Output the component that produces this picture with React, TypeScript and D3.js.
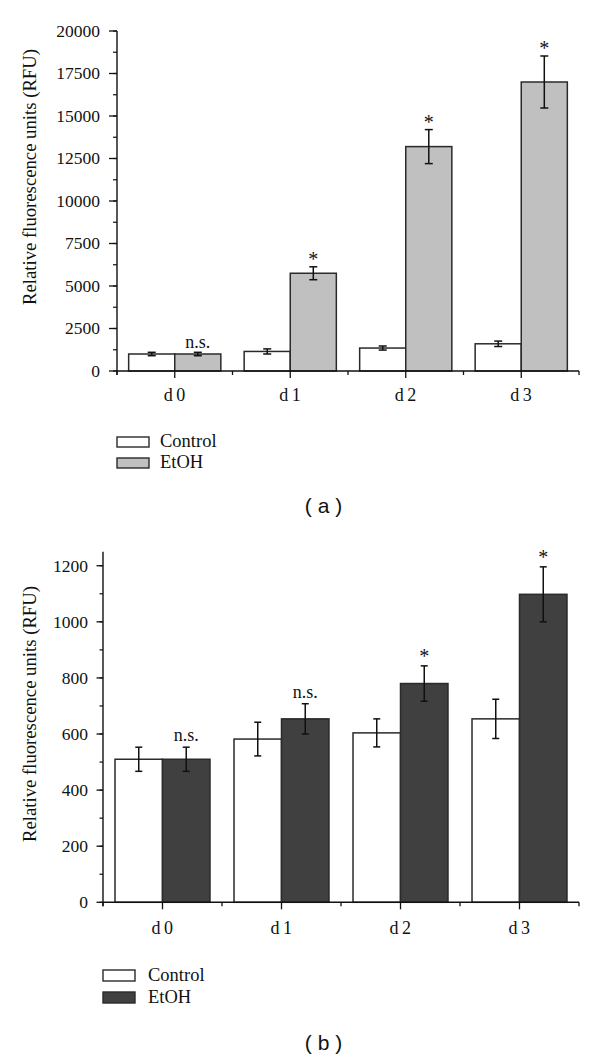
import React from "react";
import * as d3 from "d3";

const categories = ["d0", "d1", "d2", "d3"];
const series = ["Control", "EtOH"];

const aControl = [1000, 1150, 1350, 1600];
const aControlErr = [100, 150, 120, 160];
const aEtoh = [1000, 5750, 13200, 17000];
const aEtohErr = [100, 380, 1000, 1530];
const aMarks = ["n.s.", "*", "*", "*"];
const aTicks = [0, 2500, 5000, 7500, 10000, 12500, 15000, 17500, 20000];

const bControl = [510, 582, 604, 654];
const bControlErr = [43, 60, 50, 70];
const bEtoh = [510, 654, 780, 1098];
const bEtohErr = [43, 54, 63, 98];
const bMarks = ["n.s.", "n.s.", "*", "*"];
const bTicks = [0, 200, 400, 600, 800, 1000, 1200];

const SERIF = "'Liberation Serif', 'Times New Roman', serif";
const SANS = "'Liberation Sans', Arial, sans-serif";

type PanelProps = {
  control: number[];
  controlErr: number[];
  etoh: number[];
  etohErr: number[];
  marks: string[];
  ticks: number[];
  minorStep: number;
  yDomainMax: number;
  yTop: number;
  yBottom: number;
  xLeft: number;
  xRight: number;
  etohColor: string;
  majorLen: number;
  minorLen: number;
  labelX: number;
  catLabelY: number;
  capW: number;
  nsOffset: number;
  starOffset: number;
  legendBoxX: number;
  legendTextX: number;
  legendY: number[];
  legendBoxH: number;
  legendBaseline: number[];
  panelLabel: string;
  panelLabelY: number;
  yLabelCenter: number;
};

function Panel(p: PanelProps) {
  const y = d3.scaleLinear().domain([0, p.yDomainMax]).range([p.yBottom, p.yTop]);
  const x = d3.scaleBand<string>().domain(categories).range([p.xLeft, p.xRight]).padding(0);
  const inner = d3
    .scaleBand<string>()
    .domain(series)
    .range([0, x.bandwidth()])
    .paddingInner(0)
    .paddingOuter(0.253);
  const minor = d3.range(0, p.ticks[p.ticks.length - 1] + 1, p.minorStep);
  const boundaries = categories.map((c) => x(c) as number).concat([p.xRight]);
  const data = [
    { key: "Control", vals: p.control, errs: p.controlErr, fill: "#ffffff" },
    { key: "EtOH", vals: p.etoh, errs: p.etohErr, fill: p.etohColor },
  ];
  const y0 = y(0);
  return (
    <g>
      {data.map((s) =>
        categories.map((c, i) => {
          const bx = (x(c) as number) + (inner(s.key) as number);
          const bw = inner.bandwidth();
          return (
            <rect
              key={s.key + c}
              x={bx}
              y={y(s.vals[i])}
              width={bw}
              height={y0 - y(s.vals[i])}
              fill={s.fill}
              stroke="#2a2a2a"
              strokeWidth={1.5}
            />
          );
        })
      )}
      {data.map((s) =>
        categories.map((c, i) => {
          const cx = (x(c) as number) + (inner(s.key) as number) + inner.bandwidth() / 2;
          const t = y(s.vals[i] + s.errs[i]);
          const b = y(s.vals[i] - s.errs[i]);
          return (
            <g key={"e" + s.key + c} stroke="#111" strokeWidth={1.5}>
              <line x1={cx} x2={cx} y1={t} y2={b} />
              <line x1={cx - p.capW / 2} x2={cx + p.capW / 2} y1={t} y2={t} />
              <line x1={cx - p.capW / 2} x2={cx + p.capW / 2} y1={b} y2={b} />
            </g>
          );
        })
      )}
      {categories.map((c, i) => {
        const cx = (x(c) as number) + (inner("EtOH") as number) + inner.bandwidth() / 2;
        const t = y(p.etoh[i] + p.etohErr[i]);
        const isStar = p.marks[i] === "*";
        return (
          <text
            key={"m" + c}
            x={cx}
            y={t - (isStar ? p.starOffset : p.nsOffset)}
            textAnchor="middle"
            fontFamily={SERIF}
            fontSize={isStar ? 20 : 18}
            fill="#111"
          >
            {p.marks[i]}
          </text>
        );
      })}
      <line x1={p.xLeft} x2={p.xLeft} y1={p.yTop} y2={y0 + 4} stroke="#111" strokeWidth={1.4} />
      {minor.map((v) => (
        <line
          key={"mi" + v}
          x1={p.xLeft - p.minorLen}
          x2={p.xLeft}
          y1={y(v)}
          y2={y(v)}
          stroke="#111"
          strokeWidth={1.2}
        />
      ))}
      {p.ticks.map((v) => (
        <g key={"t" + v}>
          <line x1={p.xLeft - p.majorLen} x2={p.xLeft} y1={y(v)} y2={y(v)} stroke="#111" strokeWidth={1.3} />
          <text
            x={p.labelX}
            y={y(v)}
            dy="0.34em"
            textAnchor="end"
            fontFamily={SERIF}
            fontSize={17.5}
            fill="#111"
          >
            {v}
          </text>
        </g>
      ))}
      <text
        transform={`translate(36, ${p.yLabelCenter}) rotate(-90)`}
        textAnchor="middle"
        fontFamily={SERIF}
        fontSize={18}
        textLength={256}
        lengthAdjust="spacingAndGlyphs"
        fill="#111"
      >
        Relative fluorescence units (RFU)
      </text>
      <line x1={p.xLeft} x2={p.xRight} y1={y0} y2={y0} stroke="#111" strokeWidth={1.4} />
      {boundaries.map((bx, i) => (
        <line key={"b" + i} x1={bx} x2={bx} y1={y0} y2={y0 + 4} stroke="#111" strokeWidth={1.3} />
      ))}
      {categories.map((c) => {
        const cx = (x(c) as number) + x.bandwidth() / 2;
        return (
          <g key={"xc" + c}>
            <line x1={cx} x2={cx} y1={y0} y2={y0 + 7} stroke="#111" strokeWidth={1.3} />
            <text
              x={cx + 1.5}
              y={p.catLabelY}
              textAnchor="middle"
              fontFamily={SERIF}
              fontSize={18}
              letterSpacing={3.5}
              fill="#111"
            >
              {c}
            </text>
          </g>
        );
      })}
      {data.map((s, i) => (
        <g key={"lg" + s.key}>
          <rect
            x={p.legendBoxX}
            y={p.legendY[i]}
            width={32}
            height={p.legendBoxH}
            fill={s.fill}
            stroke="#2a2a2a"
            strokeWidth={1.4}
          />
          <text x={p.legendTextX} y={p.legendBaseline[i]} fontFamily={SERIF} fontSize={18.5} fill="#111">
            {s.key}
          </text>
        </g>
      ))}
      <text
        x={323.5}
        y={p.panelLabelY}
        textAnchor="middle"
        fontFamily={SANS}
        fontSize={21}
        fill="#111"
        style={{ whiteSpace: "pre" }}
      >
        {p.panelLabel}
      </text>
    </g>
  );
}

export default function App() {
  return (
    <svg
      width={600}
      height={1060}
      viewBox="0 0 600 1060"
      style={{ position: "absolute", left: 0, top: 0, background: "#fff" }}
    >
      <rect x={0} y={0} width={600} height={1060} fill="#fff" />
      <Panel
        control={aControl}
        controlErr={aControlErr}
        etoh={aEtoh}
        etohErr={aEtohErr}
        marks={aMarks}
        ticks={aTicks}
        minorStep={1250}
        yDomainMax={20000}
        yTop={31}
        yBottom={371}
        xLeft={117}
        xRight={579}
        etohColor="#c0c0c0"
        majorLen={8}
        minorLen={4}
        labelX={100}
        catLabelY={401}
        capW={8}
        nsOffset={4}
        starOffset={1}
        legendBoxX={117}
        legendTextX={160}
        legendY={[437, 458]}
        legendBoxH={10}
        legendBaseline={[447, 468]}
        panelLabel="( a )"
        panelLabelY={513}
        yLabelCenter={177}
      />
      <Panel
        control={bControl}
        controlErr={bControlErr}
        etoh={bEtoh}
        etohErr={bEtohErr}
        marks={bMarks}
        ticks={bTicks}
        minorStep={100}
        yDomainMax={1250}
        yTop={551.7}
        yBottom={902.3}
        xLeft={103}
        xRight={579}
        etohColor="#404040"
        majorLen={6.5}
        minorLen={3.5}
        labelX={88}
        catLabelY={934}
        capW={7}
        nsOffset={6}
        starOffset={3}
        legendBoxX={103}
        legendTextX={148}
        legendY={[970, 992]}
        legendBoxH={11}
        legendBaseline={[981, 1003]}
        panelLabel="( b )"
        panelLabelY={1050}
        yLabelCenter={714}
      />
    </svg>
  );
}
